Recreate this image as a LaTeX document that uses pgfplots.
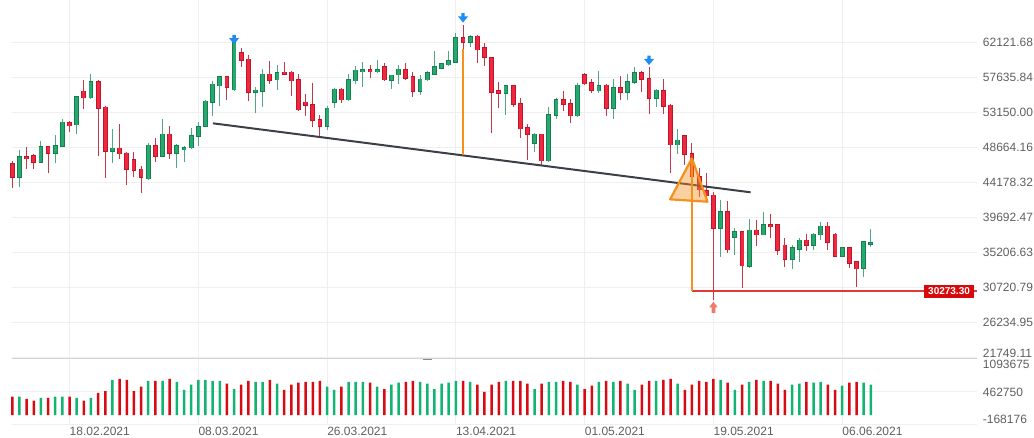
\documentclass[border=0pt]{standalone}
\usepackage{fontspec}
\setmainfont{Liberation Sans}
\usepackage{pgfplots}
\usepackage{pgfplotstable}
\pgfplotsset{compat=1.18}

\definecolor{gbody}{HTML}{26A86F}
\definecolor{gedge}{HTML}{15804F}
\definecolor{gwick}{HTML}{4FA882}
\definecolor{rbody}{HTML}{F0283F}
\definecolor{redge}{HTML}{C0142A}
\definecolor{rwick}{HTML}{C23A4A}
\definecolor{vgreen}{HTML}{12B474}
\definecolor{vred}{HTML}{D80A14}
\definecolor{gridc}{HTML}{EFEFEF}
\definecolor{sepc}{HTML}{D4D4D4}
\definecolor{lblc}{HTML}{5F5F5F}
\definecolor{trend}{HTML}{3B4046}
\definecolor{orng}{HTML}{F5901E}
\definecolor{arrowblue}{HTML}{1E8CF0}
\definecolor{arrowsalmon}{HTML}{EE7A6A}
\definecolor{boxred}{HTML}{D60A0A}
\definecolor{hlred}{HTML}{E53935}

\pgfplotstableread{
k o h l c v
-8 46631 46973 43432 44797 357
-7 44797 48338 43645 47485 357
-6 47485 48764 45864 47186 312
-5 47613 47784 45949 46717 280
-4 46717 49447 46631 48807 331
-3 48807 48900 45352 47869 331
-2 47869 50257 46717 48892 357
-1 48764 52348 48679 51921 357
0 51879 52092 50641 51409 357
1 51537 55291 50428 55163 331
2 55889 57296 53628 54993 280
3 54993 58064 54900 57083 331
4 57083 57300 47613 53670 427
5 53841 53926 44712 48124 459
6 48124 51025 46717 48594 676
7 48594 51665 47186 47826 695
8 47954 48050 43858 45864 676
9 47101 48039 44925 45736 459
10 45906 46291 42792 44797 548
11 44626 49191 44498 48978 656
12 48892 49916 46845 47485 656
13 47485 52305 47400 50385 656
14 50385 51452 47186 47911 695
15 47911 49148 45991 48935 637
16 48338 48807 46845 48679 484
17 48594 51153 48509 50215 586
18 50044 51921 48892 51324 676
19 51324 54700 51239 54609 676
20 54438 57168 52689 56784 656
21 56529 57800 54012 57723 656
22 57723 57800 54737 56358 605
23 56017 62714 55900 62074 497
24 60795 61434 58917 59771 586
25 59984 60496 54651 55718 656
26 55718 56358 53115 56017 637
27 55803 58662 53884 58064 637
28 58064 59771 56784 57211 676
29 57296 59173 56017 58235 605
30 58320 59643 57950 58022 484
31 58320 58400 55249 57168 586
32 57382 58064 53372 53457 625
33 54481 55505 52689 54012 637
34 54182 56870 51324 52092 637
35 52263 52860 50130 51324 656
36 51324 53926 50897 53713 548
37 54396 56230 53670 56145 484
38 56145 56230 54396 54737 548
39 54737 58022 54651 57339 637
40 57168 59088 56784 58576 637
41 58363 59557 56443 58661 637
42 58661 59173 57552 58363 625
43 58320 59856 58235 58661 548
44 59003 59515 57211 57296 497
45 57211 58000 56145 57936 586
46 57936 59216 56784 58704 625
47 58661 59429 57296 57510 637
48 57723 58278 55163 55803 656
49 55803 57936 55377 57424 637
50 57296 58491 57211 58235 605
51 57979 61008 57894 59045 497
52 58789 59515 58662 59429 605
53 59216 61008 59131 59771 625
54 59557 63269 59500 62757 656
55 62757 64335 61221 62117 656
56 62117 63055 61477 62842 637
57 62928 63055 59429 61136 586
58 61434 62074 59088 60155 446
59 60155 60250 50556 55718 586
60 55931 56998 53670 55590 637
61 55590 56700 52774 56614 656
62 56614 56700 53798 54182 656
63 54310 54950 49916 51025 656
64 51239 51665 47015 50300 605
65 49191 50556 48124 50385 497
66 50385 50450 46418 46930 605
67 46930 53798 46850 52902 637
68 52774 54950 52305 54822 637
69 54822 55889 53329 54182 656
70 54310 54822 51836 52689 637
71 52689 56870 52604 56656 586
72 58022 58150 56656 56784 497
73 56998 57382 55590 55931 567
74 55889 58448 55675 56614 637
75 56656 56784 52689 53628 656
76 53628 57424 52348 56358 637
77 56358 57808 54737 55718 656
78 55718 58022 54737 57083 605
79 56955 58917 56784 58278 484
80 58278 58448 55761 57382 586
81 57510 58917 52902 54950 656
82 54950 56188 53884 56017 656
83 55975 57424 52945 53884 676
84 54097 54200 45352 48978 695
85 48978 51025 47869 49618 605
86 50215 50300 46418 47783 484
87 47911 49276 44281 44925 586
88 44925 45992 42366 43219 656
89 43134 45352 42300 42451 637
90 42579 43006 29141 38313 695
91 38313 41939 34602 40446 676
92 40446 41811 35114 35540 625
93 37119 38398 34900 37886 484
94 37886 37950 30720 33493 586
95 33408 39465 33194 38100 637
96 38100 39380 36052 37460 676
97 37460 40446 37400 38825 656
98 38825 40147 37033 38526 656
99 38825 38900 34900 35455 605
100 36180 37033 33407 34346 484
101 34346 36180 33109 35839 586
102 35625 37033 34047 36820 605
103 36820 37588 35412 36095 637
104 36137 37673 35540 37588 625
105 37460 39166 36820 38612 637
106 38612 39166 35540 36479 586
107 37588 37673 34600 34687 484
108 34687 35967 34600 35882 567
109 35882 35950 33279 33834 625
110 34047 34100 30848 33109 637
111 33194 36692 32127 36607 625
112 36265 38228 35967 36521 586
}\candles

\pgfdeclareplotmark{dnarrow}{%
  \pgfpathmoveto{\pgfqpoint{-1.7pt}{4.7pt}}%
  \pgfpathlineto{\pgfqpoint{1.7pt}{4.7pt}}%
  \pgfpathlineto{\pgfqpoint{1.7pt}{1.4pt}}%
  \pgfpathlineto{\pgfqpoint{5pt}{1.4pt}}%
  \pgfpathlineto{\pgfqpoint{0pt}{-4.7pt}}%
  \pgfpathlineto{\pgfqpoint{-5pt}{1.4pt}}%
  \pgfpathlineto{\pgfqpoint{-1.7pt}{1.4pt}}%
  \pgfpathclose
  \pgfusepathqfill
}
\pgfdeclareplotmark{uparrow}{%
  \pgfpathmoveto{\pgfqpoint{-1.9pt}{-5.6pt}}%
  \pgfpathlineto{\pgfqpoint{1.9pt}{-5.6pt}}%
  \pgfpathlineto{\pgfqpoint{1.9pt}{0pt}}%
  \pgfpathlineto{\pgfqpoint{4.2pt}{0pt}}%
  \pgfpathlineto{\pgfqpoint{0pt}{5.6pt}}%
  \pgfpathlineto{\pgfqpoint{-4.2pt}{0pt}}%
  \pgfpathlineto{\pgfqpoint{-1.9pt}{0pt}}%
  \pgfpathclose
  \pgfusepathqfill
}

\pgfplotsset{
  common/.style={
    scale only axis, width=964.4pt,
    xmin=-8, xmax=126.8,
    axis line style={draw=none},
    major tick length=0pt,
    tick style={draw=none},
    scaled y ticks=false, scaled x ticks=false,
    xtick={0,18,36,54,72,90,108},
    xmajorgrids, ymajorgrids,
    grid style={draw=gridc, line width=0.8pt},
    yticklabel pos=right,
    tick label style={font=\fontsize{12}{14}\selectfont, text=lblc},
    yticklabel style={anchor=west, inner sep=0pt, xshift=6pt},
    clip=false,
  },
  candle/.style n args={4}{%
    draw=none, mark=none, forget plot,
    restrict expr to domain={\thisrow{c}-\thisrow{o}}{#1},
    error bars/.cd, y dir=both, y explicit, error mark=none,
    error bar style={line width=#3, draw=#2, solid},
  },
}
\def\updom{0:10000000}
\def\dndom{-10000000:-0.5}

\begin{document}
\begin{tikzpicture}[x=1pt,y=1pt]
\useasboundingbox (0,0) rectangle (1034,437);

% ---------- volume pane ----------
\begin{axis}[common,
  at={(12.3pt,13pt)}, anchor=south west, height=66pt,
  ymin=-168176, ymax=1093675,
  ytick={-168176,462750,1093675},
  yticklabels={\raisebox{0.4pt}[0pt][0pt]{-168176},\raisebox{-5pt}[0pt][0pt]{462750},\raisebox{-10.6pt}[0pt][0pt]{1093675}},
  xticklabels={18.02.2021,08.03.2021,26.03.2021,13.04.2021,01.05.2021,19.05.2021,06.06.2021},
  xticklabel style={anchor=north west, inner sep=0pt, yshift=-3.4pt},
]
\addplot[ybar, bar width=2.5pt, bar shift=0pt, fill=vgreen, draw=none,
  restrict expr to domain={\thisrow{c}-\thisrow{o}}{\updom}]
  table[x=k, y expr={\thisrow{v}*1000}] {\candles};
\addplot[ybar, bar width=2.5pt, bar shift=0pt, fill=vred, draw=none,
  restrict expr to domain={\thisrow{c}-\thisrow{o}}{\dndom}]
  table[x=k, y expr={\thisrow{v}*1000}] {\candles};
\end{axis}

% ---------- price pane ----------
\begin{axis}[common,
  at={(12.3pt,79.2pt)}, anchor=south west, height=357.8pt,
  ymin=21749.11, ymax=67535,
  xticklabels={},
  ytick={26234.95,30720.79,35206.63,39692.47,44178.32,48664.16,53150.00,57635.84,62121.68},
  yticklabels={26234.95,30720.79,35206.63,39692.47,44178.32,48664.16,53150.00,57635.84,62121.68},
  extra y ticks={21749.11},
  extra y tick labels={\raisebox{0.8pt}[0pt][0pt]{21749.11}},
]
% wicks
\addplot[candle={\updom}{gwick}{1pt}{w}]
  table[x=k, y expr={(\thisrow{h}+\thisrow{l})/2}, y error expr={(\thisrow{h}-\thisrow{l})/2}] {\candles};
\addplot[candle={\dndom}{rwick}{1pt}{w}]
  table[x=k, y expr={(\thisrow{h}+\thisrow{l})/2}, y error expr={(\thisrow{h}-\thisrow{l})/2}] {\candles};
% bodies: edge
\addplot[candle={\updom}{gedge}{4.8pt}{e}]
  table[x=k, y expr={(\thisrow{o}+\thisrow{c})/2}, y error expr={abs(\thisrow{c}-\thisrow{o})/2+60}] {\candles};
\addplot[candle={\dndom}{redge}{4.8pt}{e}]
  table[x=k, y expr={(\thisrow{o}+\thisrow{c})/2}, y error expr={abs(\thisrow{c}-\thisrow{o})/2+60}] {\candles};
% bodies: fill
\addplot[candle={\updom}{gbody}{3pt}{f}]
  table[x=k, y expr={(\thisrow{o}+\thisrow{c})/2}, y error expr={max(abs(\thisrow{c}-\thisrow{o})/2-60,0)}] {\candles};
\addplot[candle={\dndom}{rbody}{3pt}{f}]
  table[x=k, y expr={(\thisrow{o}+\thisrow{c})/2}, y error expr={max(abs(\thisrow{c}-\thisrow{o})/2-60,0)}] {\candles};

% trend line
\addplot[trend, line width=2pt, mark=none] coordinates {(20.04,51755) (95.2,42925)};
% orange vertical, support line
\addplot[orng, line width=1.8pt, mark=none] coordinates {(55,61221) (55,47648)};
\addplot[draw=hlred, line width=1.5pt, mark=none] coordinates {(87,30273.3) (126.8,30273.3)};
\addplot[orng, line width=1.8pt, mark=none] coordinates {(87,47276) (87,30273.3)};
% triangle
\addplot[draw=orng, fill=orng, fill opacity=0.42, line width=2.2pt, line join=round, mark=none]
  coordinates {(87,47276) (83.95,42028) (89.17,41721) (87,47276)} -- cycle;
% markers
\addplot[only marks, mark=dnarrow, mark options={fill=arrowblue, draw=none}]
  coordinates {(23,62480) (55,65251) (81,59818)};
\addplot[only marks, mark=uparrow, mark options={fill=arrowsalmon, draw=none}]
  coordinates {(90,28207)};
% price label box
\node[fill=boxred, text=white, font=\fontsize{10}{12}\selectfont\bfseries,
  inner xsep=4.2pt, inner ysep=3pt, anchor=east, xshift=-2.4pt]
  at (axis cs:126.8,30273.3) {30273.30};
\end{axis}

% pane separator and handle
\draw[sepc, line width=1.2pt] (12.3,78.8) -- (976.7,78.8);
\draw[black!45, line width=1.3pt] (423.3,77.7) -- (432.3,77.7);
\end{tikzpicture}
\end{document}
